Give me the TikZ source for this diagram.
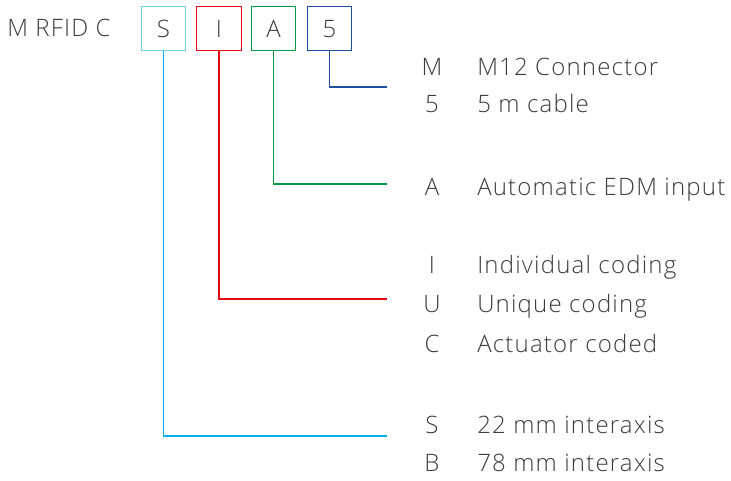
\documentclass[tikz,border=0pt]{standalone}
\usepackage{fontspec}
\setmainfont{Open Sans}[UprightFont={* Light}, LetterSpace=5]
\definecolor{txt}{HTML}{3C3C3C}
\definecolor{cS}{HTML}{00AEEF}
\definecolor{cSb}{HTML}{70CDF2}
\definecolor{cI}{HTML}{E30613}
\definecolor{cA}{HTML}{009A44}
\definecolor{cF}{HTML}{1D4F9E}
\begin{document}
\begin{tikzpicture}[x=0.75pt,y=-0.75pt,
  lbl/.style={font=\fontsize{18}{21}\selectfont, text=txt, inner sep=0pt},
  code/.style={lbl, anchor=base},
  desc/.style={lbl, anchor=base west},
  cbox/.style={draw, line width=1.1pt, minimum width=44.5*0.75pt, minimum height=44.5*0.75pt, inner sep=0pt},
  conn/.style={line width=0.8pt}]
\useasboundingbox (0,0) rectangle (731,480);
\node[lbl, anchor=base west] (title) at (7,36) {M RFID C};
\node[cbox, draw=cSb] (bS) at (163.5,28.5) {};
\node[cbox, draw=cI] (bI) at (219,28.5) {};
\node[cbox, draw=cA] (bA) at (273.5,28.5) {};
\node[cbox, draw=cF] (b5) at (329.5,28.5) {};
\node[code] at (163.5,37) {S};
\node[code] at (219,37) {I};
\node[code] at (273.5,37) {A};
\node[code] at (329.5,37) {5};
% right column
\node[code] (kM) at (432,75) {M};  \node[desc] (dM) at (477,75) {M12 Connector};
\node[code] (k5) at (432,112) {5}; \node[desc] (d5) at (477,112) {5 m cable};
\node[code] (kA) at (432,195) {A}; \node[desc] (dA) at (477,195) {Automatic EDM input};
\node[code] (kI) at (432,273) {I}; \node[desc] (dI) at (477,273) {Individual coding};
\node[code] (kU) at (432,312) {U}; \node[desc] (dU) at (477,312) {Unique coding};
\node[code] (kC) at (432,352) {C}; \node[desc] (dC) at (477,352) {Actuator coded};
\node[code] (kS) at (432,433) {S}; \node[desc] (dS) at (477,433) {22 mm interaxis};
\node[code] (kB) at (432,471) {B}; \node[desc] (dB) at (477,471) {78 mm interaxis};
% connector ends
\coordinate (e5) at (387,87);
\coordinate (eA) at (387,184);
\coordinate (eI) at (387,299);
\coordinate (eS) at (387,436);
\draw[conn, cF] (b5.south) -- (b5.south |- e5) -- (e5);
\draw[conn, cA] (bA.south) -- (bA.south |- eA) -- (eA);
\draw[conn, cI] (bI.south) -- (bI.south |- eI) -- (eI);
\draw[conn, cS] (bS.south) -- (bS.south |- eS) -- (eS);
\end{tikzpicture}
\end{document}
